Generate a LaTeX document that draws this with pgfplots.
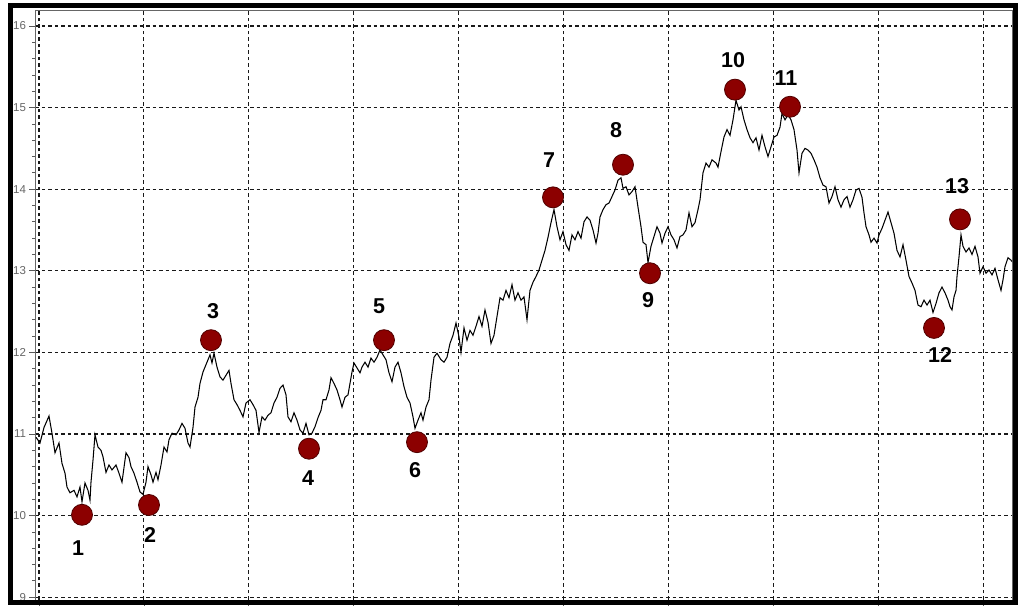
\documentclass[border=0pt]{standalone}
\usepackage{pgfplots}
\pgfplotsset{compat=1.18}
\usepackage{pgfplotstable}
\usepackage{fontspec}
\setmainfont{Liberation Sans}
\definecolor{mk}{RGB}{140,0,0}
\definecolor{mkd}{RGB}{80,0,0}

\pgfplotstableread{
x y
36 10.96
40 10.89
44 11.08
49 11.22
52 11.01
55 10.77
59 10.89
62 10.64
65 10.52
67 10.35
70 10.28
74 10.31
77 10.23
80 10.35
82 10.17
85 10.40
88 10.31
90 10.19
91 10.41
93 10.68
95 10.99
98 10.84
101 10.80
103 10.72
106 10.53
109 10.62
112 10.56
116 10.62
119 10.52
122 10.41
126 10.77
129 10.71
131 10.60
134 10.52
137 10.41
140 10.29
143 10.26
146 10.41
148 10.60
151 10.50
153 10.41
156 10.53
158 10.44
161 10.62
164 10.84
167 10.78
169 10.93
172 11.01
176 10.99
179 11.05
182 11.13
185 11.07
188 10.89
190 10.84
193 11.08
195 11.33
198 11.45
200 11.62
203 11.76
207 11.88
210 11.97
212 11.87
214 11.99
217 11.82
220 11.70
223 11.66
226 11.72
229 11.78
231 11.62
234 11.42
237 11.36
240 11.29
243 11.21
246 11.38
250 11.42
253 11.36
256 11.29
259 11.02
262 11.21
265 11.17
268 11.23
271 11.26
274 11.38
277 11.45
280 11.56
283 11.60
286 11.48
288 11.21
291 11.15
294 11.26
297 11.17
300 11.05
303 11.01
306 11.13
309 10.99
312 11.01
315 11.09
318 11.20
321 11.29
323 11.42
326 11.42
329 11.54
331 11.69
334 11.62
337 11.54
340 11.42
342 11.33
345 11.45
348 11.48
350 11.62
352 11.76
354 11.87
357 11.81
360 11.75
362 11.82
365 11.88
368 11.82
371 11.93
374 11.88
377 11.94
380 12.03
383 11.97
386 11.91
389 11.75
392 11.64
395 11.82
398 11.88
401 11.75
404 11.58
407 11.45
410 11.38
413 11.21
415 11.07
418 11.17
421 11.26
423 11.17
426 11.33
429 11.42
431 11.66
434 11.94
437 11.99
441 11.91
444 11.88
447 11.94
450 12.11
453 12.21
456 12.36
459 12.19
461 12.00
464 12.30
467 12.15
470 12.27
473 12.21
476 12.32
479 12.44
482 12.32
485 12.52
488 12.37
491 12.11
494 12.21
497 12.44
500 12.67
503 12.64
506 12.76
509 12.67
512 12.83
515 12.64
518 12.73
521 12.64
524 12.68
527 12.40
530 12.76
533 12.86
536 12.93
539 13.01
542 13.13
545 13.25
548 13.41
551 13.59
554 13.75
557 13.54
560 13.38
563 13.48
566 13.32
569 13.25
572 13.44
575 13.38
578 13.48
581 13.40
584 13.60
587 13.66
590 13.62
593 13.50
596 13.34
598 13.46
600 13.66
603 13.75
606 13.81
609 13.83
612 13.91
615 13.99
618 14.11
621 14.14
623 14.01
626 14.03
629 13.93
632 13.97
635 14.03
638 13.78
641 13.54
643 13.35
646 13.32
648 13.10
651 13.30
654 13.42
657 13.54
660 13.46
662 13.34
665 13.46
668 13.54
671 13.44
674 13.38
677 13.28
680 13.42
683 13.44
686 13.50
689 13.71
692 13.54
695 13.59
698 13.75
700 13.87
703 14.20
706 14.32
709 14.27
712 14.36
716 14.32
718 14.27
721 14.46
724 14.64
727 14.73
730 14.66
733 14.85
736 15.09
739 14.97
741 15.01
744 14.85
747 14.73
750 14.63
753 14.57
756 14.63
759 14.48
762 14.66
765 14.52
768 14.40
771 14.52
774 14.64
777 14.66
780 14.76
782 14.93
785 14.85
788 14.91
791 14.85
794 14.73
797 14.48
799 14.20
802 14.44
805 14.50
808 14.48
811 14.44
814 14.36
817 14.27
820 14.14
823 14.05
826 14.03
829 13.83
832 13.91
835 14.03
838 13.87
841 13.78
844 13.87
847 13.91
850 13.78
853 13.87
856 13.99
859 14.01
862 13.90
864 13.71
866 13.54
869 13.44
871 13.35
874 13.40
877 13.34
879 13.44
882 13.52
885 13.62
888 13.72
891 13.59
894 13.46
897 13.25
900 13.17
903 13.32
906 13.13
909 12.93
912 12.85
915 12.76
918 12.58
921 12.56
924 12.64
927 12.58
930 12.64
933 12.49
936 12.60
939 12.73
942 12.80
945 12.73
948 12.64
950 12.56
952 12.52
954 12.68
956 12.76
957 12.93
959 13.17
961 13.44
963 13.30
966 13.23
969 13.28
972 13.20
975 13.30
978 13.17
980 12.97
983 13.05
986 12.97
989 13.01
992 12.95
995 13.03
998 12.89
1001 12.76
1003 12.89
1005 13.05
1008 13.16
1011 13.13
1013 13.10
}\pricedata

\pgfplotstableread{
x y
82 10.01
149 10.13
211 12.15
309 10.82
384 12.15
417 10.90
553 13.90
623 14.30
650 12.97
735 15.22
790 15.01
934 12.30
960 13.63
}\markdata

\pgfplotstableread{
x y label
78 9.60 1
150 9.76 2
213 12.50 3
308 10.46 4
379 12.57 5
415 10.56 6
549 14.36 7
616 14.73 8
648 12.64 9
733 15.58 10
786 15.36 11
940 11.97 12
957 14.04 13
}\labeldata

\begin{document}
\begin{tikzpicture}
\begin{axis}[
  scale only axis,
  width=976.5pt, height=590pt,
  xmin=35.5, xmax=1012, ymin=8.966, ymax=16.196,
  axis line style={black!60, line width=0.8pt},
  xtick={39,143.9,248.8,353.7,458.6,563.5,668.4,773.3,878.2,983.1},
  minor xtick={91.45,196.35,301.25,406.15,511.05,615.95,720.85,825.75,930.65},
  xticklabels={},
  ytick={9,10,11,12,13,14,15,16},
  minor y tick num=4,
  grid=major,
  major grid style={black!90, dash pattern=on 3.5pt off 3pt, line width=1.1pt},
  tick align=outside, tick pos=left,
  major tick length=6pt, minor tick length=3pt,
  every tick/.style={black!65, line width=0.8pt},
  yticklabel style={font=\fontsize{11.5}{13}\selectfont, text=black!60},
  /pgf/number format/assume math mode=true,
]
\addplot[black, line width=1.05pt] table[x=x, y=y] {\pricedata};
\addplot[only marks, mark=*, mark size=10.5pt, mark options={fill=mk, draw=mkd, line width=0.8pt}] table[x=x, y=y] {\markdata};
\addplot[draw=none, nodes near coords, point meta=explicit symbolic,
  nodes near coords style={anchor=center, font=\fontsize{21.5}{24}\selectfont\bfseries, text=black}]
  table[x=x, y=y, meta=label] {\labeldata};
\end{axis}
\draw[line width=5pt, black] ([shift={(-25pt,-2.5pt)}]current axis.south west) rectangle ([shift={(3pt,4.5pt)}]current axis.north east);
\path ([shift={(-35.5pt,-9pt)}]current axis.south west) rectangle ([shift={(11pt,10pt)}]current axis.north east);
\end{tikzpicture}
\end{document}
